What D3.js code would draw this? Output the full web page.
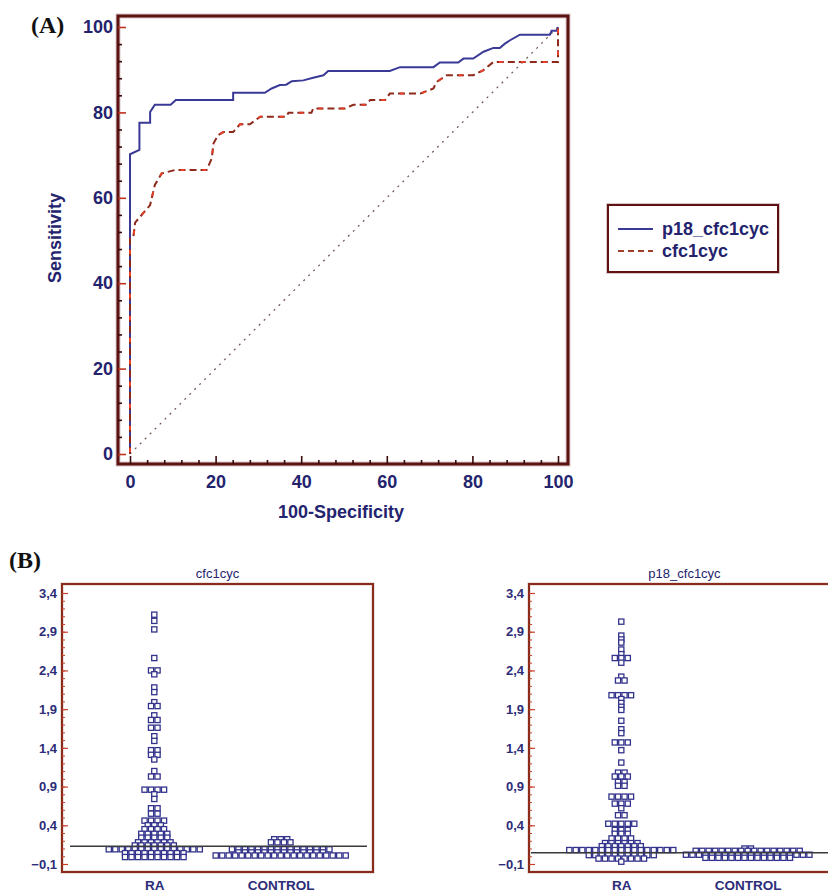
<!DOCTYPE html>
<html><head><meta charset="utf-8">
<script src="https://cdn.jsdelivr.net/npm/d3@7"></script>
<style>body{margin:0;background:#fff}svg{display:block}</style>
</head><body><svg id="c" width="828" height="892"></svg>
<script>
// ---------- DATA ----------
// ROC curve p18_cfc1cyc (100-Specificity, Sensitivity)
const p18FPR = [0,0,2.2,2.2,4.7,4.7,5.1,5.8,9.5,10.7,24.1,24.1,31.5,33.1,35,36.5,37.8,40.5,42.8,45.2,46.3,60.7,63.1,70.9,72.4,76.7,77.9,80.2,82.6,84.9,86.4,87.6,88.8,91.1,98.1,98.5,99.7,100];
const p18TPR = [0,70.2,71.2,77.6,77.6,80.1,80.7,81.8,81.8,82.9,82.9,84.6,84.6,85.6,86.4,86.5,87.3,87.5,88.1,88.7,89.7,89.7,90.6,90.6,91.7,91.7,92.6,92.6,94.2,95.1,95.1,96.1,96.9,98.2,98.2,99.1,99.1,100];
// ROC curve cfc1cyc
const cfcFPR = [0,0,0.8,1.2,4.7,5.8,7.4,10.5,17.9,19.1,19.5,20.6,21.8,24.1,25.7,28,30.4,36.6,37,42.4,42.8,50.2,52.2,55.3,56.1,59.6,60.7,67.8,70.9,71.6,74,80.2,82.6,84.9,100,100];
const cfcTPR = [0,50.5,50.9,54.2,58.3,63,65.7,66.5,66.5,69.2,72.7,74.7,75.4,75.4,77.2,77.2,79,79,79.9,79.9,80.9,80.9,81.8,81.8,82.9,82.9,84.4,84.4,85.6,87.1,88.7,88.7,89.9,91.8,91.8,100];
const rocTicksMajor = [0,20,40,60,80,100];
const seriesNames = ["p18_cfc1cyc","cfc1cyc"];

// Dot plots: [value, number of cases with that value]
const categories = ["RA","CONTROL"];
const cfcRA = [[3.12,1],[3.04,1],[2.93,1],[2.56,1],[2.40,2],[2.35,1],[2.18,1],[2.12,1],[1.99,1],[1.94,2],[1.82,1],[1.76,2],[1.66,2],[1.55,1],[1.49,1],[1.37,2],[1.31,2],[1.25,1],[1.10,1],[1.03,2],[0.86,4],[0.80,1],[0.74,1],[0.62,2],[0.55,2],[0.46,4],[0.40,3],[0.35,4],[0.29,5],[0.24,5],[0.18,6],[0.14,7],[0.09,15],[0.04,10],[-0.01,10]];
const cfcCTRL = [[0.22,3],[0.18,4],[0.09,16],[0.05,14],[0.01,21]];
const p18RA = [[3.03,1],[2.85,1],[2.80,1],[2.76,1],[2.67,1],[2.61,1],[2.56,3],[2.50,1],[2.32,1],[2.27,2],[2.08,4],[2.03,1],[1.98,1],[1.93,1],[1.89,1],[1.75,1],[1.64,1],[1.59,1],[1.47,3],[1.37,1],[1.21,1],[1.08,2],[1.03,3],[0.96,2],[0.91,2],[0.77,4],[0.68,3],[0.62,1],[0.53,2],[0.42,5],[0.34,3],[0.29,3],[0.23,4],[0.17,6],[0.13,7],[0.08,17],[0.015,11],[-0.03,8],[-0.07,1]];
const p18CTRL = [[0.10,2],[0.07,17],[0.02,20],[-0.02,14]];
const cutoffs = [0.13, 0.045];
const dotTicks = [-0.1,0.4,0.9,1.4,1.9,2.4,2.9,3.4];

// ---------- DRAW ----------
const svg = d3.select("#c");
const SANS = "'Liberation Sans', Arial, sans-serif";
const NAVY = "#23236e";
const FRAME = "#5e1212";

// Panel A
const x = d3.scaleLinear().domain([0,100]).range([130,558]);
const y = d3.scaleLinear().domain([0,100]).range([454,27]);
const gA = svg.append("g");
gA.append("rect").attr("x",118).attr("y",16).attr("width",450).attr("height",448)
  .attr("fill","none").attr("stroke","#d9c9c9").attr("stroke-width",5);
gA.append("rect").attr("x",118).attr("y",16).attr("width",450).attr("height",448)
  .attr("fill","none").attr("stroke",FRAME).attr("stroke-width",3);

function styleAxis(g, col){ g.select(".domain").remove(); g.selectAll(".tick line").attr("stroke",col).attr("stroke-width",1.6); }
const minorVals = d3.range(0,101,4).filter(v=>v%20!==0);
gA.append("g").attr("transform","translate(118,0)")
  .call(d3.axisLeft(y).tickValues(minorVals).tickSize(-4).tickFormat(""))
  .call(g=>styleAxis(g,"#3a0a0a"));
gA.append("g").attr("transform","translate(118,0)")
  .call(d3.axisLeft(y).tickValues(rocTicksMajor).tickSize(-8).tickPadding(5))
  .call(g=>styleAxis(g,"#c0301e"))
  .call(g=>g.selectAll("text").attr("font-family",SANS).attr("font-size",18).attr("font-weight","bold").attr("fill",NAVY));
gA.append("g").attr("transform","translate(0,464)")
  .call(d3.axisBottom(x).tickValues(minorVals).tickSize(-4).tickFormat(""))
  .call(g=>styleAxis(g,"#3a0a0a"));
gA.append("g").attr("transform","translate(0,464)")
  .call(d3.axisBottom(x).tickValues(rocTicksMajor).tickSize(-8).tickPadding(11))
  .call(g=>styleAxis(g,"#3a0a0a"))
  .call(g=>g.selectAll("text").attr("font-family",SANS).attr("font-size",18).attr("font-weight","bold").attr("fill",NAVY));

// diagonal
gA.append("line").attr("x1",x(0)).attr("y1",y(0)).attr("x2",x(100)).attr("y2",y(100))
  .attr("stroke","#7a5c5c").attr("stroke-width",1.3).attr("stroke-dasharray","2,5");
const line = d3.line().x(d=>x(d[0])).y(d=>y(d[1]));
gA.append("path").datum(p18FPR.map((v,i)=>[v,p18TPR[i]])).attr("d",line)
  .attr("fill","none").attr("stroke","#3a3a96").attr("stroke-width",2);
gA.append("path").datum(cfcFPR.map((v,i)=>[v,cfcTPR[i]])).attr("d",line)
  .attr("fill","none").attr("stroke","#8e2a1c").attr("stroke-width",2).attr("stroke-dasharray","7,4");
gA.append("path").datum(cfcFPR.map((v,i)=>[v,cfcTPR[i]])).attr("d",line)
  .attr("fill","none").attr("stroke","#e8402a").attr("stroke-width",2).attr("stroke-dasharray","4,18").attr("stroke-dashoffset",-2);

gA.append("text").attr("x",341).attr("y",518).attr("text-anchor","middle")
  .attr("font-family",SANS).attr("font-size",18).attr("font-weight","bold").attr("fill",NAVY).text("100-Specificity");
gA.append("text").attr("transform","translate(61,238) rotate(-90)").attr("text-anchor","middle")
  .attr("font-family",SANS).attr("font-size",18).attr("font-weight","bold").attr("fill",NAVY).text("Sensitivity");
svg.append("text").attr("x",31).attr("y",33).attr("font-family","'Liberation Serif', 'Times New Roman', serif")
  .attr("font-size",24).attr("font-weight","bold").attr("fill","#111").text("(A)");

// legend
const lg = svg.append("g");
lg.append("rect").attr("x",608).attr("y",205).attr("width",170).attr("height",67)
  .attr("fill","#fff").attr("stroke","#d9c9c9").attr("stroke-width",4);
lg.append("rect").attr("x",608).attr("y",205).attr("width",170).attr("height",67)
  .attr("fill","#fff").attr("stroke",FRAME).attr("stroke-width",2);
const legStyles = [{c:"#3a3a96",d:null},{c:"#a0402a",d:"6,4"}];
seriesNames.forEach((n,i)=>{
  const yy = 229 + i*22;
  lg.append("line").attr("x1",618).attr("x2",653).attr("y1",yy).attr("y2",yy)
    .attr("stroke",legStyles[i].c).attr("stroke-width",2).attr("stroke-dasharray",legStyles[i].d);
  lg.append("text").attr("x",662).attr("y",yy+6).attr("font-family",SANS).attr("font-size",18)
    .attr("font-weight","bold").attr("fill",NAVY).text(n);
});

// Panel B
svg.append("text").attr("x",9).attr("y",568).attr("font-family","'Liberation Serif', 'Times New Roman', serif")
  .attr("font-size",24).attr("font-weight","bold").attr("fill","#111").text("(B)");
const yB = d3.scaleLinear().domain([-0.1,3.4]).range([864,593]);
const fmt = v => d3.format(".1f")(v).replace(".",",");
const panels = [
  {title:"cfc1cyc", left:62, groups:[cfcRA,cfcCTRL], cut:cutoffs[0], lx1:70, lx2:367},
  {title:"p18_cfc1cyc", left:529, groups:[p18RA,p18CTRL], cut:cutoffs[1], lx1:531, lx2:836}
];
const W = 311, S = 6.5;
panels.forEach(p=>{
  const g = svg.append("g").attr("transform",`translate(${p.left},0)`);
  const xb = d3.scalePoint().domain(categories).range([0,W]).padding(0.73);
  g.append("rect").attr("x",0).attr("y",584).attr("width",W).attr("height",288)
    .attr("fill","none").attr("stroke","#e6d6d3").attr("stroke-width",3.5);
  g.append("rect").attr("x",0).attr("y",584).attr("width",W).attr("height",288)
    .attr("fill","none").attr("stroke","#8a2c1c").attr("stroke-width",2);
  g.append("text").attr("x",W/2).attr("y",578).attr("text-anchor","middle")
    .attr("font-family",SANS).attr("font-size",13).attr("fill",NAVY).text(p.title);
  g.append("g").call(d3.axisLeft(yB).tickValues(d3.range(-1,35).map(v=>v/10)).tickSize(-3).tickFormat(""))
    .call(gg=>{gg.select(".domain").remove();gg.selectAll(".tick line").attr("stroke","#c8402c").attr("stroke-width",1);});
  g.append("g").call(d3.axisLeft(yB).tickValues(dotTicks).tickSize(-6).tickPadding(5).tickFormat(fmt))
    .call(gg=>{gg.select(".domain").remove();gg.selectAll(".tick line").attr("stroke","#c8402c").attr("stroke-width",1.2);
      gg.selectAll("text").attr("font-family",SANS).attr("font-size",13).attr("font-weight","bold").attr("fill","#2c2c78");});
  g.append("g").attr("transform","translate(0,872)").call(d3.axisBottom(xb).tickSize(0).tickPadding(8))
    .call(gg=>{gg.select(".domain").remove();
      gg.selectAll("text").attr("font-family",SANS).attr("font-size",13.5).attr("font-weight","bold").attr("fill","#2c2c78");});
  const pts = [];
  p.groups.forEach((grp,gi)=>{
    const cx = xb(categories[gi]);
    grp.forEach(([v,n])=>{ for(let i=0;i<n;i++) pts.push({x:cx+(i-(n-1)/2)*S, y:yB(v)}); });
  });
  g.selectAll("rect.pt").data(pts).join("rect").attr("class","pt")
    .attr("x",d=>d.x-2.6).attr("y",d=>d.y-2.6).attr("width",5.2).attr("height",5.2)
    .attr("fill","#fff").attr("stroke","#33338c").attr("stroke-width",1.3);
  g.append("line").attr("x1",p.lx1-p.left).attr("x2",p.lx2-p.left).attr("y1",yB(p.cut)).attr("y2",yB(p.cut))
    .attr("stroke","#3a3a3a").attr("stroke-width",1.4);
});
</script></body></html>
